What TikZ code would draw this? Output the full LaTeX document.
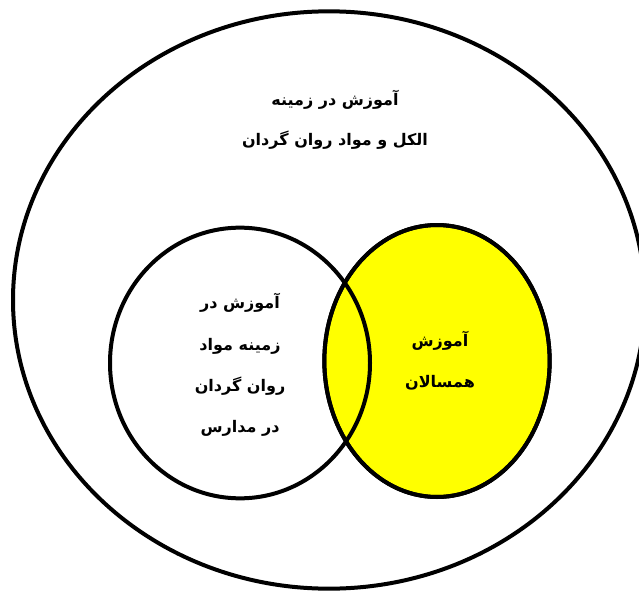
\documentclass[tikz,border=0pt]{standalone}
\usepackage{fontspec}
\newfontfamily\arabicfont[Script=Arabic]{DejaVu Sans}
\TeXXeTstate=1
\usepackage{tikz}
\usetikzlibrary{shapes.geometric}
\definecolor{peeryellow}{RGB}{255,255,0}

\begin{document}
\begin{tikzpicture}[
  x=0.75pt,y=-0.75pt,
  ring/.style={ellipse,draw,line width=3pt,inner sep=0pt},
  label/.style={align=center,font=\arabicfont\bfseries\fontsize{12}{31}\selectfont}
]
\useasboundingbox (0,0) rectangle (639,592);
\node[ring,minimum width=474pt,minimum height=433pt] (whole) at (329,300) {};
\node[ring,fill=peeryellow,minimum width=169pt,minimum height=204pt] (peer) at (437,361) {};
\node[ring,minimum width=195pt,minimum height=203pt] (school) at (240,363) {};
\node[ring,minimum width=169pt,minimum height=204pt] (peerline) at (437,361) {};
% texts
\node[label,font=\arabicfont\bfseries\fontsize{12}{30}\selectfont] (wholetext) at (335,120)
  {\beginR آموزش در زمینه\endR\\\beginR الکل و مواد روان گردان\endR};
\node[label] (schooltext) at (240,365)
  {\beginR آموزش در\endR\\\beginR زمینه مواد\endR\\\beginR روان گردان\endR\\\beginR در مدارس\endR};
\node[label] (peertext) at (440,361)
  {\beginR آموزش\endR\\\beginR همسالان\endR};
\end{tikzpicture}
\end{document}
